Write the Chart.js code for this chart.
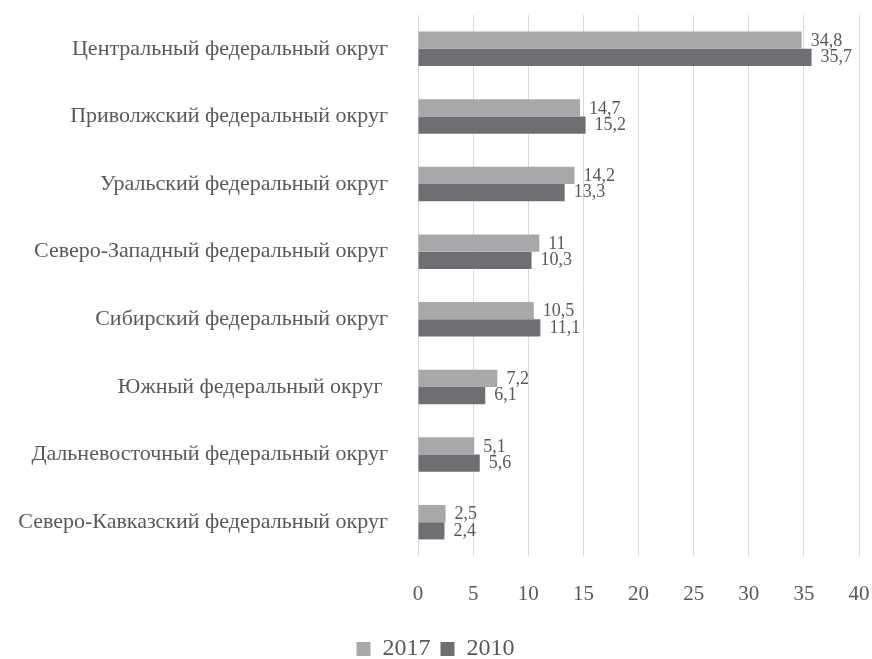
<!DOCTYPE html>
<html>
<head>
<meta charset="utf-8">
<script src="https://cdn.jsdelivr.net/npm/chart.js@4"></script>
<style>
  html, body { margin: 0; padding: 0; background: #fff; }
  #wrap { width: 872px; height: 659px; }
</style>
</head>
<body>
<div id="wrap"><canvas id="chart" width="872" height="659"></canvas></div>
<script>
var districts = [
    'Центральный федеральный округ',
    'Приволжский федеральный округ',
    'Уральский федеральный округ',
    'Северо-Западный федеральный округ',
    'Сибирский федеральный округ',
    'Южный федеральный округ ',
    'Дальневосточный федеральный округ',
    'Северо-Кавказский федеральный округ'
];
var values2017 = [34.8, 14.7, 14.2, 11, 10.5, 7.2, 5.1, 2.5];
var values2010 = [35.7, 15.2, 13.3, 10.3, 11.1, 6.1, 5.6, 2.4];
var xTicks = [0, 5, 10, 15, 20, 25, 30, 35, 40];

var textColor = '#595959';
var serif = "'Liberation Serif', 'DejaVu Serif', serif";

// value labels next to each bar, comma as decimal separator
var barLabels = {
    id: 'barLabels',
    afterDatasetsDraw: function(chart) {
        var ctx = chart.ctx;
        ctx.save();
        ctx.font = '18px ' + serif;
        ctx.fillStyle = textColor;
        ctx.textAlign = 'left';
        ctx.textBaseline = 'middle';
        chart.data.datasets.forEach(function(ds, i) {
            var meta = chart.getDatasetMeta(i);
            meta.data.forEach(function(bar, j) {
                var txt = String(ds.data[j]).replace('.', ',');
                ctx.fillText(txt, bar.x + 9, bar.y + (i === 0 ? 1 : 0));
            });
        });
        ctx.restore();
    }
};

new Chart(document.getElementById('chart').getContext('2d'), {
    type: 'bar',
    data: {
        labels: districts,
        datasets: [{
            label: '2017',
            data: values2017,
            backgroundColor: '#a8a8aa',
            categoryPercentage: 0.51,
            barPercentage: 1.0
        }, {
            label: '2010',
            data: values2010,
            backgroundColor: '#6e6f73',
            categoryPercentage: 0.51,
            barPercentage: 1.0
        }]
    },
    options: {
        indexAxis: 'y',
        responsive: false,
        animation: false,
        layout: { padding: { top: 15, right: 13, left: 12, bottom: -12 } },
        scales: {
            x: {
                min: 0,
                max: 40,
                afterBuildTicks: function(scale) {
                    scale.ticks = xTicks.map(function(v) { return { value: v }; });
                },
                afterFit: function(scale) {
                    scale.height = 71;
                    scale.paddingLeft = 0;
                    scale.paddingRight = 0;
                },
                grid: { color: '#d9d9d9', drawTicks: false },
                border: { display: false },
                ticks: {
                    color: textColor,
                    padding: 26,
                    font: { family: serif, size: 21 }
                }
            },
            y: {
                afterFit: function(scale) {
                    scale.width = 406;
                    scale.paddingTop = 0;
                    scale.paddingBottom = 0;
                },
                grid: { display: false },
                border: { display: false },
                ticks: {
                    color: textColor,
                    padding: 22,
                    font: { family: serif, size: 22 }
                }
            }
        },
        plugins: {
            legend: {
                position: 'bottom',
                labels: {
                    color: textColor,
                    boxWidth: 14,
                    boxHeight: 14,
                    padding: 10,
                    font: { family: serif, size: 24 }
                }
            },
            tooltip: { enabled: false }
        }
    },
    plugins: [barLabels]
});
</script>
</body>
</html>
